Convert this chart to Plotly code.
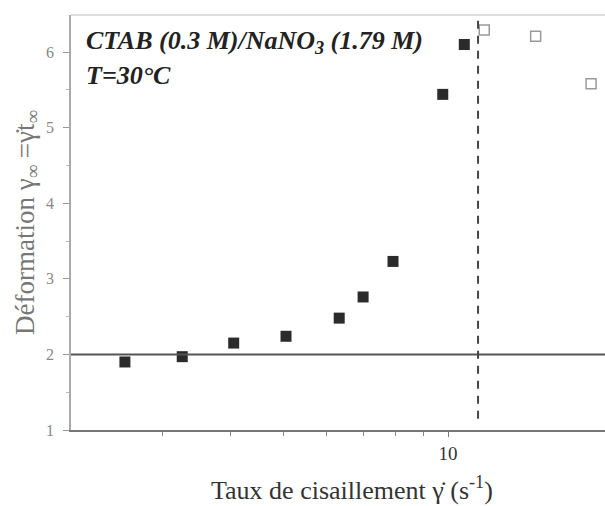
import plotly.graph_objects as go

# Data
x_filled = [2.56, 3.26, 4.05, 5.05, 6.32, 6.99, 7.93, 9.78, 10.71]
y_filled = [1.90, 1.97, 2.15, 2.24, 2.48, 2.76, 3.23, 5.44, 6.10]
x_open = [11.65, 14.47, 18.28]
y_open = [6.29, 6.21, 5.58]
y_plateau = 2.0
x_critical = 11.35
x_tickvals = [10]
x_ticktext = ["10"]
y_tickvals = [1, 2, 3, 4, 5, 6]

SERIF = "Liberation Serif, Times New Roman, serif"

fig = go.Figure()
fig.add_trace(go.Scatter(
    x=x_filled, y=y_filled, mode="markers",
    marker=dict(symbol="square", size=11, color="#2b2b2b", line=dict(width=0)),
    showlegend=False))
fig.add_trace(go.Scatter(
    x=x_open, y=y_open, mode="markers",
    marker=dict(symbol="square-open", size=10, color="#9a9a9a", line=dict(width=1.5)),
    showlegend=False))

# horizontal reference line at gamma = 2
fig.add_shape(type="line", xref="paper", yref="y", x0=0, x1=1, y0=y_plateau, y1=y_plateau,
              line=dict(color="#555555", width=2))
# vertical dashed line
fig.add_shape(type="line", xref="x", yref="y", x0=x_critical, x1=x_critical, y0=1.15, y1=6.55,
              line=dict(color="#444444", width=2, dash="8px,7px"))
# top frame (faint)
fig.add_shape(type="line", xref="paper", yref="paper", x0=0, x1=1, y0=1, y1=1,
              line=dict(color="#bbbbbb", width=1))

fig.add_annotation(xref="paper", yref="paper", x=0.025, y=0.935, xanchor="left", yanchor="middle",
                   text="<b><i>CTAB (0.3 M)/NaNO<sub>3</sub> (1.79 M)</i></b>", showarrow=False,
                   font=dict(family=SERIF, size=26, color="#222222"))
fig.add_annotation(xref="paper", yref="paper", x=0.025, y=0.855, xanchor="left", yanchor="middle",
                   text="<b><i>T=30°C</i></b>", showarrow=False,
                   font=dict(family=SERIF, size=26, color="#222222"))
# x-axis title (placed as in the reference, slightly right of centre)
fig.add_annotation(xref="paper", yref="paper", x=0.526, y=-0.142, xanchor="center", yanchor="middle",
                   text="Taux de cisaillement γ̇ (s<sup>-1</sup>)", showarrow=False,
                   font=dict(family=SERIF, size=26, color="#333333"))

fig.update_layout(
    width=605, height=506,
    margin=dict(l=71, r=0, t=15, b=76),
    plot_bgcolor="white", paper_bgcolor="white",
    font=dict(family=SERIF),
    xaxis=dict(
        type="log", range=[0.3095, 1.2875],
        tickvals=x_tickvals, ticktext=x_ticktext,
        ticks="outside", ticklen=5, tickcolor="#777777",
        tickfont=dict(family=SERIF, size=19, color="#333333"),
        showline=True, linecolor="#777777", linewidth=1.5,
        showgrid=False, zeroline=False,
        minor=dict(tickvals=[3, 4, 5, 6, 7, 8, 9, 20], ticks="outside", ticklen=4, tickcolor="#888888"),
    ),
    yaxis=dict(
        range=[1, 6.49],
        tickvals=y_tickvals,
        ticks="outside", ticklen=6, tickcolor="#999999",
        ticklabelstandoff=6,
        tickfont=dict(family=SERIF, size=16, color="#888888"),
        showline=True, linecolor="#aaaaaa", linewidth=1.5,
        showgrid=False, zeroline=False,
        minor=dict(dtick=0.5, ticks="outside", ticklen=3, tickcolor="#bbbbbb"),
        title=dict(text="Déformation γ<sub>∞</sub> =γ̇t<sub>∞</sub>",
                   font=dict(family=SERIF, size=27, color="#777777"), standoff=4),
    ),
)

fig.write_html("out.html",
               config={"displayModeBar": False},
               post_script="document.body.style.margin='0';document.body.style.overflow='hidden';")
